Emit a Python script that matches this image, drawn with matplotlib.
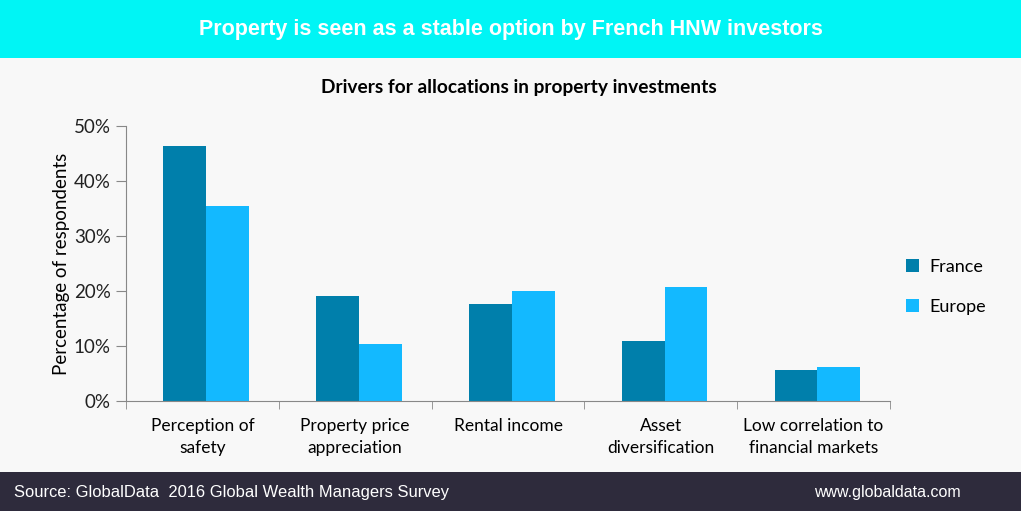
import numpy as np
import matplotlib.pyplot as plt
from matplotlib.patches import Rectangle
from matplotlib.ticker import FuncFormatter

# Drivers for allocations in property investments (% of respondents)
categories = ["Perception of\nsafety", "Property price\nappreciation", "Rental income",
              "Asset\ndiversification", "Low correlation to\nfinancial markets"]
france = [46.3, 19.1, 17.6, 10.9, 5.6]
europe = [35.5, 10.4, 20.0, 20.7, 6.2]

c_france = "#007FAB"
c_europe = "#13B9FF"
bg = "#F8F8F8"

fig = plt.figure(figsize=(10.21, 5.11), dpi=100)
fig.patch.set_facecolor(bg)

# top banner and footer
fig.patches.append(Rectangle((0, 1 - 58 / 511), 1, 58 / 511, transform=fig.transFigure,
                             facecolor="#00F5F5", edgecolor="none", zorder=0))
fig.patches.append(Rectangle((0, 0), 1, 39 / 511, transform=fig.transFigure,
                             facecolor="#2E2B3C", edgecolor="none", zorder=0))
fig.text(0.5, 1 - 30 / 511, "Property is seen as a stable option by French HNW investors",
         ha="center", va="center", color="white", fontsize=15.5, fontweight="bold",
         family="Liberation Sans")
fig.text(0.014, 19 / 511, "Source: GlobalData  2016 Global Wealth Managers Survey",
         ha="left", va="center", color="white", fontsize=11.9, family="Liberation Sans")
fig.text(0.941, 19 / 511, "www.globaldata.com", ha="right", va="center", color="white",
         fontsize=11.5, family="Liberation Sans")
fig.text(519 / 1021, 1 - 88 / 511, "Drivers for allocations in property investments",
         ha="center", va="center", fontsize=13.8, fontweight="bold", family="Lato")

ax = fig.add_axes([126 / 1021, 1 - 401 / 511, 764 / 1021, 275 / 511])
ax.set_facecolor(bg)

x = np.arange(len(categories))
w = 0.28
shift = 0.025
ax.bar(x - w / 2 + shift, france, w, color=c_france, label="France", zorder=2)
ax.bar(x + w / 2 + shift, europe, w, color=c_europe, label="Europe", zorder=2)

ax.set_xlim(-0.5, len(categories) - 0.5)
ax.set_ylim(0, 50)
ax.set_yticks(np.arange(0, 51, 10))
ax.yaxis.set_major_formatter(FuncFormatter(lambda v, p: f"{v:.0f}%"))
ax.set_xticks(x)
ax.set_xticklabels(categories, fontsize=12.5, family="Lato", linespacing=1.5)
ax.set_xticks(np.arange(-0.5, len(categories)), minor=True)
ax.tick_params(axis="x", which="major", length=0, pad=12)
ax.tick_params(axis="x", which="minor", length=6, color="#888888", direction="out")
ax.tick_params(axis="y", length=7, color="#888888", labelsize=13.5, pad=4)
for lab in ax.get_yticklabels():
    lab.set_family("Lato")
    lab.set_color("#222222")

for s in ["top", "right"]:
    ax.spines[s].set_visible(False)
for s in ["left", "bottom"]:
    ax.spines[s].set_color("#888888")

ax.set_ylabel("Percentage of respondents", fontsize=13.5, family="Lato", labelpad=3)

leg = ax.legend(loc="center left", bbox_to_anchor=(1.012, 0.415), frameon=False,
                borderaxespad=0, prop={"family": "Lato", "size": 13},
                handlelength=0.7, handleheight=0.7, labelspacing=1.35, handletextpad=0.6)

plt.savefig("out.png", dpi=100, facecolor=fig.get_facecolor())
